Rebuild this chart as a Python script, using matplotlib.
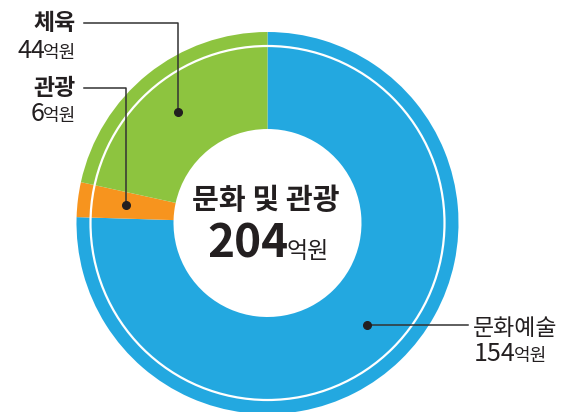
import numpy as np
import matplotlib.pyplot as plt
from matplotlib.patches import Circle

plt.rcParams['font.family'] = ['Noto Sans CJK KR', 'DejaVu Sans']

# data
names = ['문화예술', '관광', '체육']
values = [154, 6, 44]
colors = ['#23A8E0', '#F7941E', '#8DC43F']
total_label = '문화 및 관광'
unit = '억원'

W, H = 579, 412
TXT = '#231F20'
LINE = '#333333'

fig = plt.figure(figsize=(W / 100, H / 100), dpi=100)
ax = fig.add_axes([0, 0, 1, 1])

cx, cy = 267.5, H - 223
r_out, r_in = 191, 94

wedges, _ = ax.pie(values, colors=colors, startangle=90, counterclock=False,
                   radius=r_out, center=(cx, cy),
                   wedgeprops=dict(width=r_out - r_in, edgecolor='none'))
ax.add_patch(Circle((cx, cy), 177, fill=False, edgecolor='white', lw=1.6))

ax.set_xlim(0, W)
ax.set_ylim(0, H)
ax.set_aspect('equal')
ax.axis('off')

renderer = fig.canvas.get_renderer()


def width_of(t):
    bb = t.get_window_extent(renderer=renderer)
    return bb.width


def num_unit(x, y, num, ha, nsize, usize, weight='normal'):
    # number + small unit on one baseline
    a = ax.text(0, y, num, fontsize=nsize, va='baseline', color=TXT, fontweight=weight)
    b = ax.text(0, y, unit, fontsize=usize, va='baseline', color=TXT)
    wa, wb = width_of(a), width_of(b)
    gap = -2
    if ha == 'right':
        x0 = x - wa - wb - gap
    elif ha == 'center':
        x0 = x - (wa + wb + gap) / 2
    else:
        x0 = x
    a.set_x(x0)
    b.set_x(x0 + wa + gap)
    return a, b


# dots at mid angle of each wedge, middle of the ring
r_mid = (r_out + r_in) / 2
dots = []
for w in wedges:
    ang = np.deg2rad((w.theta1 + w.theta2) / 2)
    dots.append((cx + r_mid * np.cos(ang), cy + r_mid * np.sin(ang)))

# 문화예술 (right side)
dx, dy = dots[0]
ax.plot([dx, 468], [dy, dy], color=LINE, lw=1.1)
ax.plot(dx, dy, 'o', color=TXT, ms=5.5)
ax.text(473, dy - 3, names[0], fontsize=16.5, fontweight='medium',
        va='center', ha='left', color=TXT)
num_unit(474, H - 361, str(values[0]), 'left', 18, 13)

# 관광 and 체육 (left side)
for i, ly, by in [(1, 88, 121), (2, 23, 58)]:
    dx, dy = dots[i]
    ax.plot([dx, dx, 84], [dy, H - ly, H - ly], color=LINE, lw=1.1)
    ax.plot(dx, dy, 'o', color=TXT, ms=5.5)
    ax.text(76, H - ly, names[i], fontsize=16.5, fontweight='bold',
            va='center', ha='right', color=TXT)
    num_unit(76, H - by, str(values[i]), 'right', 18, 13)

# center total
ax.text(266, H - 200, total_label, fontsize=21, fontweight='bold',
        ha='center', va='center', color=TXT)
num_unit(268, H - 258, str(sum(values)), 'center', 33, 16.5, weight='bold')

fig.savefig('out.png', dpi=100)
